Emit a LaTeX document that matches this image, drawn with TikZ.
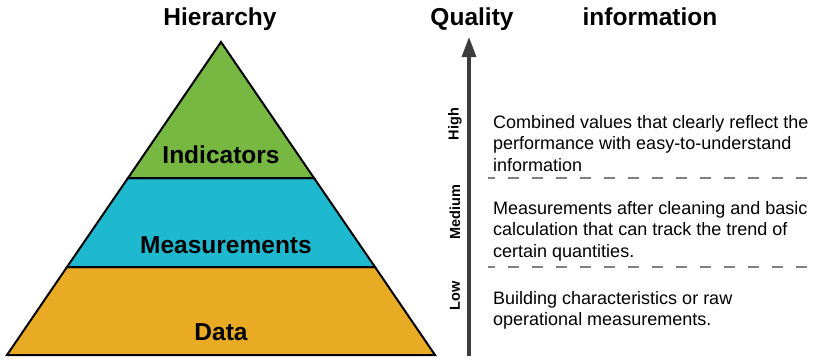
\documentclass[tikz,border=0pt]{standalone}
\usepackage{fontspec}
\setmainfont{Liberation Sans}
\usepackage{xcolor}
\usepackage{tikz}
\usetikzlibrary{arrows.meta}

\definecolor{indgreen}{HTML}{77B843}
\definecolor{meascyan}{HTML}{1FB9CF}
\definecolor{dataorange}{HTML}{E8AB23}
\definecolor{axisgray}{HTML}{3C3C3C}

\begin{document}
\begin{tikzpicture}[x=1pt,y=-1pt,
	heading/.style={font=\fontsize{24.5}{29}\selectfont\bfseries, inner sep=0pt, anchor=base},
	layer/.style={draw=black, line width=2pt, line join=miter},
	levelname/.style={font=\fontsize{24.5}{29}\selectfont\bfseries, inner sep=0pt, anchor=base},
	grade/.style={font=\fontsize{14.5}{16}\selectfont\bfseries, rotate=90, inner sep=0pt},
	note/.style={font=\fontsize{18}{21.5}\selectfont, align=left, anchor=north west, inner sep=0pt},
	divider/.style={draw=gray, line width=1.2pt, dash pattern=on 11pt off 13pt, dash phase=4pt},
	qualityaxis/.style={draw=axisgray, line width=3.3pt, -{Triangle[length=20pt, width=14pt]}}
]
\useasboundingbox (0,0) rectangle (816,359);

% pyramid corners
\coordinate (apex) at (221,42);
\coordinate (l1) at (128,178);
\coordinate (r1) at (314,178);
\coordinate (l2) at (67,267);
\coordinate (r2) at (375,267);
\coordinate (bl) at (7,355);
\coordinate (br) at (435,355);

\filldraw[layer, fill=dataorange] (l2) -- (r2) -- (br) -- (bl) -- cycle;
\filldraw[layer, fill=meascyan] (l1) -- (r1) -- (r2) -- (l2) -- cycle;
\filldraw[layer, fill=indgreen] (apex) -- (r1) -- (l1) -- cycle;

\node[levelname] (indicators) at (221,163.5) {Indicators};
\node[levelname] (measurements) at (226,253.5) {Measurements};
\node[levelname] (data) at (221,340) {Data};

% headings
\node[heading] (hierarchy) at (220,25) {Hierarchy};
\node[heading] (quality) at (472,25) {Quality};
\node[heading] (information) at (650,25) {information};

% quality axis
\coordinate (qbot) at (469,356);
\coordinate (qtop) at (469,37);
\draw[qualityaxis] (qbot) -- (qtop);

\node[grade] (high) at (455,124) {High};
\node[grade] (medium) at (455,212) {Medium};
\node[grade] (low) at (455,296) {Low};

% descriptions
\node[note] (highnote) at (493,115) {Combined values that clearly reflect the\\performance with easy-to-understand\\information};
\node[note] (mediumnote) at (493,201) {Measurements after cleaning and basic\\calculation that can track the trend of\\certain quantities.};
\node[note] (lownote) at (493,291) {Building characteristics or raw\\operational measurements.};

\coordinate (d1a) at (488,178);
\coordinate (d1b) at (812,178);
\coordinate (d2a) at (488,267);
\coordinate (d2b) at (812,267);
\draw[divider] (d1a) -- (d1b);
\draw[divider] (d2a) -- (d2b);

\end{tikzpicture}
\end{document}
